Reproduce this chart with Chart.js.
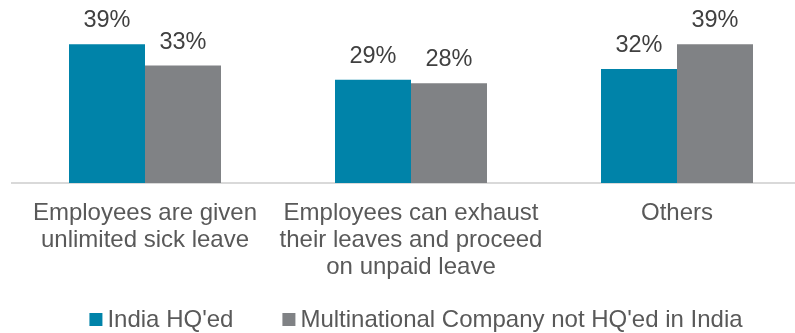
<!DOCTYPE html>
<html>
<head>
<meta charset="utf-8">
<script src="https://cdn.jsdelivr.net/npm/chart.js@4.4.1/dist/chart.umd.min.js"></script>
<style>
  html, body { margin: 0; padding: 0; background: #ffffff; }
  #wrap { width: 795px; height: 333px; overflow: hidden; position: relative; }
  canvas { display: block; }
</style>
</head>
<body>
<div id="wrap"><canvas id="chart" width="822" height="333"></canvas></div>
<script>
// Share of responses by company type
const categories = [
  ['Employees are given', 'unlimited sick leave'],
  ['Employees can exhaust', 'their leaves and proceed', 'on unpaid leave'],
  ['Others']
];
const seriesNames = ["India HQ'ed", "Multinational Company not HQ'ed in India"];
const indiaHQ = [39, 29, 32];
const multinational = [33, 28, 39];
const seriesColors = ['#0083A9', '#808285'];

const FONT = '"Liberation Sans", Arial, sans-serif';
const VALUE_SIZE = 23.5;
const TEXT_SIZE = 24;

// Percentage labels above each bar
const valueLabels = {
  id: 'valueLabels',
  afterDatasetsDraw(chart) {
    const ctx = chart.ctx;
    ctx.save();
    ctx.font = VALUE_SIZE + 'px ' + FONT;
    ctx.fillStyle = '#404040';
    ctx.textAlign = 'center';
    ctx.textBaseline = 'alphabetic';
    chart.data.datasets.forEach((ds, i) => {
      chart.getDatasetMeta(i).data.forEach((bar, j) => {
        ctx.fillText(ds.data[j] + '%', bar.x, bar.y - 17);
      });
    });
    ctx.restore();
  }
};

// Legend row drawn under the category labels
const bottomLegend = {
  id: 'bottomLegend',
  afterDraw(chart) {
    const ctx = chart.ctx;
    const box = 13, gap = 5, spacing = 49;
    ctx.save();
    ctx.font = TEXT_SIZE + 'px ' + FONT;
    const widths = chart.data.datasets.map(ds => ctx.measureText(ds.label).width);
    const total = widths.reduce((s, w) => s + box + gap + w, 0) + spacing * (widths.length - 1);
    const area = chart.chartArea;
    let x = (area.left + area.right) / 2 + 5 - total / 2;
    const baseline = 327;
    chart.data.datasets.forEach((ds, i) => {
      ctx.fillStyle = ds.backgroundColor;
      ctx.fillRect(x, baseline - 14, box, box);
      x += box + gap;
      ctx.fillStyle = '#595959';
      ctx.textBaseline = 'alphabetic';
      ctx.textAlign = 'left';
      ctx.fillText(ds.label, x, baseline);
      x += widths[i] + spacing;
    });
    ctx.restore();
  }
};

new Chart(document.getElementById('chart'), {
  type: 'bar',
  data: {
    labels: categories,
    datasets: [
      { label: seriesNames[0], data: indiaHQ, backgroundColor: seriesColors[0] },
      { label: seriesNames[1], data: multinational, backgroundColor: seriesColors[1] }
    ]
  },
  options: {
    responsive: false,
    animation: false,
    layout: { padding: { left: 12, right: 12, top: 5, bottom: 0 } },
    datasets: {
      bar: { categoryPercentage: 0.5714, barPercentage: 1.0, borderWidth: 0 }
    },
    plugins: {
      legend: { display: false },
      tooltip: { enabled: false }
    },
    scales: {
      x: {
        grid: { display: false, drawTicks: false },
        border: { display: true, color: '#d9d9d9', width: 2 },
        ticks: {
          color: '#595959',
          font: { family: FONT, size: TEXT_SIZE, lineHeight: 1.13 },
          padding: 17,
          maxRotation: 0,
          autoSkip: false
        },
        afterFit(scale) { scale.height = 333 - 183; }
      },
      y: {
        display: false,
        min: 0,
        max: 50
      }
    }
  },
  plugins: [valueLabels, bottomLegend]
});
</script>
</body>
</html>
